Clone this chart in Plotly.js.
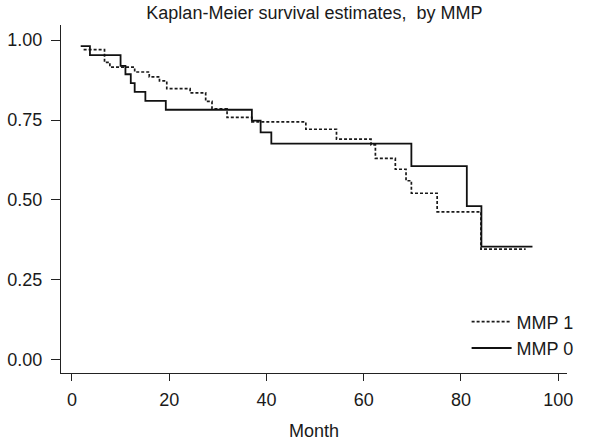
<!DOCTYPE html>
<html>
<head>
<meta charset="utf-8">
<script src="https://cdn.plot.ly/plotly-3.0.1.min.js"></script>
<style>html,body{margin:0;padding:0;background:#fff;}#chart{width:591px;height:443px;}</style>
</head>
<body>
<div id="chart"></div>
<script>
// MMP 1 (dashed) Kaplan-Meier step curve
const mmp1Month = [2.4, 6.7, 7.8, 12.9, 15.9, 18.0, 19.5, 24.3, 27.5, 28.8, 31.9, 37.0, 48.1, 54.4, 61.5, 62.4, 66.5, 68.7, 69.8, 75.1, 84.1, 93.3];
const mmp1Surv  = [0.970, 0.930, 0.915, 0.900, 0.885, 0.872, 0.848, 0.835, 0.808, 0.785, 0.758, 0.744, 0.721, 0.690, 0.672, 0.630, 0.596, 0.560, 0.521, 0.463, 0.346, 0.346];
// MMP 0 (solid) Kaplan-Meier step curve
const mmp0Month = [1.8, 3.7, 10.0, 11.0, 12.1, 12.9, 15.1, 19.3, 37.0, 38.8, 41.0, 69.8, 81.2, 84.2, 94.7];
const mmp0Surv  = [0.981, 0.953, 0.919, 0.893, 0.865, 0.838, 0.810, 0.782, 0.748, 0.711, 0.676, 0.606, 0.481, 0.354, 0.354];

const xTicks = [0, 20, 40, 60, 80, 100];
const yTicks = [0, 0.25, 0.5, 0.75, 1];
const seriesNames = ["MMP 1", "MMP 0"];

const fam = "Liberation Sans, Arial, sans-serif";
const font = {family: fam, size: 18, color: "#1a1a1a"};

const traces = [
  {x: mmp1Month, y: mmp1Surv, name: seriesNames[0], mode: "lines", type: "scatter",
   line: {shape: "hv", color: "#1a1a1a", width: 1.7, dash: "3px,2px"}},
  {x: mmp0Month, y: mmp0Surv, name: seriesNames[1], mode: "lines", type: "scatter",
   line: {shape: "hv", color: "#111", width: 1.8}}
];

const layout = {
  width: 591, height: 443,
  margin: {l: 61, r: 21, t: 25, b: 70},
  paper_bgcolor: "#fff", plot_bgcolor: "#fff",
  font: font,
  showlegend: true,
  title: {text: "Kaplan-Meier survival estimates,  by MMP", font: {family: fam, size: 18, color: "#1a1a1a"},
          x: 0.532, xanchor: "center", y: 0.972, yanchor: "middle"},
  xaxis: {range: [-2.25, 101.8], tickvals: xTicks, ticktext: xTicks.map(String),
          showgrid: false, zeroline: false, showline: true, linecolor: "#222", linewidth: 1,
          ticks: "outside", ticklen: 7, tickcolor: "#222", tickfont: font, ticklabelstandoff: 3,
          title: {text: "Month", font: font, standoff: 15}},
  yaxis: {range: [-0.041, 1.047], tickvals: yTicks, ticktext: yTicks.map(v => v.toFixed(2)),
          showgrid: false, zeroline: false, showline: true, linecolor: "#222", linewidth: 1,
          ticks: "outside", ticklen: 9, tickcolor: "#222", tickfont: font, ticklabelstandoff: 5},
  legend: {x: 0.8016, y: 0.2, xanchor: "left", yanchor: "top", bgcolor: "rgba(0,0,0,0)",
           font: font, tracegroupgap: 0, itemwidth: 40}
};

Plotly.newPlot("chart", traces, layout, {displayModeBar: false, staticPlot: true});
</script>
</body>
</html>
